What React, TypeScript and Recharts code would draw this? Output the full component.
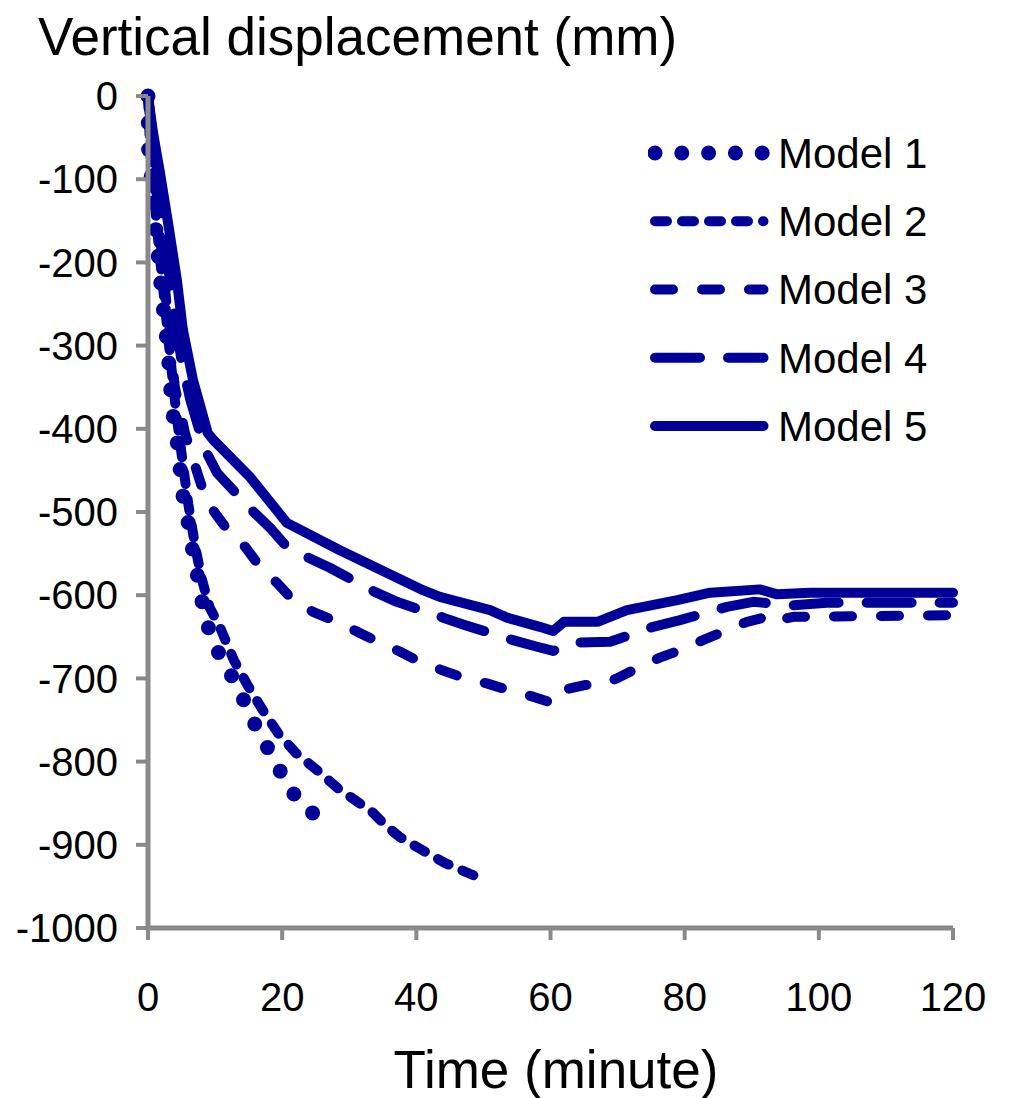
import React from 'react';
import { LineChart, Line, XAxis, YAxis, Legend } from 'recharts';

// time (minute) / vertical displacement (mm)
const t1 = [0, 0.1, 0.6, 1.3, 2.1, 3, 3.6, 4.3, 5.2, 6, 6.7, 7.5, 8.2, 9.2, 11, 13.3, 14.9, 16.7, 18.9, 20.7, 23.1, 26.4];
const v1 = [0, -70, -105, -173, -242, -309, -377, -411, -480, -513, -548, -582, -614, -645, -678, -708, -738, -768, -798, -828, -853, -873];

const t2 = [0, 0.3, 0.8, 1.6, 2.5, 3.4, 4.2, 5, 6, 7, 8, 9.2, 10.7, 12.8, 14.9, 17.1, 19.4, 22.1, 25.3, 28.3, 31.5, 33.1, 35.3, 37.6, 40.8, 44.3, 49.2];
const v2 = [0, -60, -110, -180, -250, -320, -380, -430, -490, -540, -580, -615, -638, -678, -709, -738, -766, -790, -811, -832, -850, -858, -876, -891, -906, -922, -939];

const t3 = [0, 1, 2, 3, 4, 5, 5.5, 7, 8.2, 9.7, 11.9, 14.5, 16.7, 19.2, 21.6, 24.6, 28.2, 31.2, 34.3, 37.6, 40.5, 43.8, 47.3, 50.5, 53.7, 57.4, 60.4, 61.9, 65.1, 67.4, 69.9, 73.3, 76.3, 80.4, 82.7, 86.3, 89.3, 93.2, 93.9, 96.2, 120];
const v3 = [0, -90, -185, -270, -350, -385, -405, -444, -474, -498, -522, -542, -566, -585, -606, -620, -632, -644, -656, -668, -680, -690, -700, -706, -714, -722, -730, -714, -708, -708, -700, -686, -675, -663, -654, -642, -632, -624, -630, -626, -624];

const t4 = [0, 1, 2, 3, 4, 5, 6.3, 8.5, 10.3, 15.5, 18.2, 20.7, 23.9, 27.1, 33.8, 37.1, 44, 47.3, 54.4, 58, 60.4, 63, 68.9, 75.3, 79.3, 86.3, 90.2, 96.2, 101.2, 120];
const v4 = [0, -70, -140, -205, -265, -318, -365, -425, -453, -498, -519, -542, -555, -567, -596, -608, -627, -636, -654, -662, -667, -657, -656, -638, -630, -614, -608, -612, -609, -609];

const t5 = [0, 0.75, 1.8, 3, 4.3, 5.2, 6.7, 8.9, 9.7, 15.2, 20.7, 28.6, 41, 43.5, 51, 53.5, 58.4, 60.4, 62, 67, 71.4, 78.9, 83.8, 91.2, 93.8, 98.7, 120];
const v5 = [0, -44, -93, -153, -221, -281, -341, -405, -413, -458, -513, -546, -594, -602, -618, -627, -638, -643, -632, -632, -618, -606, -597, -593, -599, -597, -597];

const seriesNames = ['Model 1', 'Model 2', 'Model 3', 'Model 4', 'Model 5'];
const xTicks = [0, 20, 40, 60, 80, 100, 120];
const yTicks = [0, -100, -200, -300, -400, -500, -600, -700, -800, -900, -1000];

const toPoints = (t: number[], v: number[]) => t.map((x, i) => ({ t: x, v: v[i] }));

const series = [
  { name: seriesNames[0], data: toPoints(t1, v1), dash: '0 26.8', width: 15 },
  { name: seriesNames[1], data: toPoints(t2, v2), dash: '12 15', width: 10 },
  { name: seriesNames[2], data: toPoints(t3, v3), dash: '18 29', width: 10 },
  { name: seriesNames[3], data: toPoints(t4, v4), dash: '45 28', width: 10 },
  { name: seriesNames[4], data: toPoints(t5, v5), dash: undefined, width: 10 },
];

const BLUE = '#000099';
const GREY = '#8a8a8a';
const FONT = '"Liberation Sans", Arial, sans-serif';

const renderLegend = () => (
  <svg width={330} height={350} style={{ display: 'block' }}>
    {series.map((s, i) => {
      const cy = 34 + i * 68.25;
      return (
        <g key={s.name}>
          <line x1={7} x2={115.5} y1={cy} y2={cy} stroke={BLUE} strokeWidth={s.width}
            strokeDasharray={s.dash} strokeLinecap="round" />
          <text x={130} y={cy} dy="0.355em" fontSize={42} fontFamily={FONT} fill="#000">{s.name}</text>
        </g>
      );
    })}
  </svg>
);

const App: React.FC = () => {
  return (
    <div style={{ position: 'relative', width: 1010, height: 1090, fontFamily: FONT }}>
      <LineChart width={1010} height={1090} margin={{ top: 88, right: 65, bottom: 90, left: 40 }}>
        <XAxis dataKey="t" type="number" domain={[0, 120]} ticks={xTicks} height={80}
          axisLine={{ stroke: GREY, strokeWidth: 5 }} tickLine={{ stroke: GREY, strokeWidth: 4 }}
          tickSize={12} tickMargin={43} tick={{ fill: '#000', fontSize: 40, fontFamily: FONT }} />
        <YAxis dataKey="v" type="number" domain={[-1000, 0]} ticks={yTicks} width={100}
          axisLine={{ stroke: GREY, strokeWidth: 5 }} tickLine={{ stroke: GREY, strokeWidth: 4 }}
          tickSize={12} tickMargin={18} tick={{ fill: '#000', fontSize: 40, fontFamily: FONT }} />
        <Legend layout="vertical" align="center" verticalAlign="middle" content={renderLegend}
          wrapperStyle={{ position: 'absolute', top: 111, left: 640, width: 330, height: 350 }} />
        {series.map((s) => (
          <Line key={s.name} data={s.data} dataKey="v" name={s.name} type="linear"
            stroke={BLUE} strokeWidth={s.width} strokeDasharray={s.dash}
            strokeLinecap="round" strokeLinejoin="round"
            dot={false} activeDot={false} isAnimationActive={false} />
        ))}
      </LineChart>
      <svg width={1010} height={1090} style={{ position: 'absolute', left: 0, top: 0, pointerEvents: 'none' }}>
        <text x={30} y={47} fontSize={53} fontFamily={FONT} fill="#000">Vertical displacement (mm)</text>
        <text x={548} y={1080} fontSize={53} fontFamily={FONT} fill="#000" textAnchor="middle">Time (minute)</text>
      </svg>
    </div>
  );
};

export default App;
